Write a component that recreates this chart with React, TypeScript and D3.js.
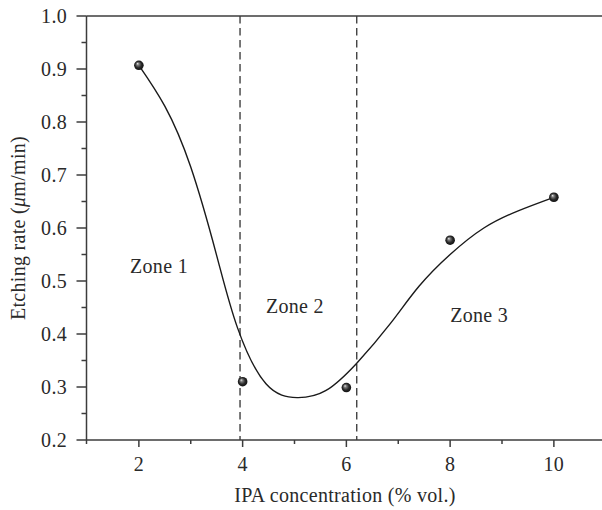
import React from "react";
import * as d3 from "d3";

// Measured etching rates
const ipaConc = [2, 4, 6, 8, 10];
const etchRate = [0.907, 0.31, 0.299, 0.577, 0.658];

// Smoothed trend curve through the measurements
const fitX = [2.0, 2.5, 3.0, 3.5, 3.9, 4.45, 5.05, 5.6, 6.2, 6.85, 7.4, 8.0, 8.65, 9.3, 10.0];
const fitY = [0.907, 0.83, 0.715, 0.548, 0.412, 0.306, 0.28, 0.293, 0.345, 0.42, 0.49, 0.55, 0.6, 0.632, 0.658];

// Zone boundaries (% vol.)
const zoneBounds = [3.95, 6.2];
const zoneLabels = ["Zone 1", "Zone 2", "Zone 3"];
const zoneLabelX = [1.83, 4.45, 8.0];
const zoneLabelY = [0.515, 0.44, 0.423];

const xMajor = [2, 4, 6, 8, 10];
const xMinor = [1, 3, 5, 7, 9, 11];
const yMajor = [0.2, 0.3, 0.4, 0.5, 0.6, 0.7, 0.8, 0.9, 1.0];
const yMinor = [0.25, 0.35, 0.45, 0.55, 0.65, 0.75, 0.85, 0.95];

const W = 602;
const H = 510;
const FONT = "'Liberation Serif', 'Times New Roman', serif";
const AXIS = "#3c3c3c";
const TEXT = "#2a2a2a";
const FS = 20;

export default function App() {
  const x = d3.scaleLinear().domain([1, 11]).range([87, 605.75]);
  const y = d3.scaleLinear().domain([0.2, 1.0]).range([440, 16]);

  const fitPts: [number, number][] = fitX.map((v, i) => [v, fitY[i]]);
  const line = d3
    .line<[number, number]>()
    .x((d) => x(d[0]))
    .y((d) => y(d[1]))
    .curve(d3.curveNatural);

  const x0 = x(1) - 0.5;
  const yBottom = y(0.2);
  const yTop = y(1.0);

  return (
    <svg
      width={W}
      height={H}
      style={{ position: "absolute", left: 0, top: 0, background: "#fff" }}
      fontFamily={FONT}
    >
      <defs>
        <radialGradient id="ball" cx="50%" cy="50%" r="55%" fx="35%" fy="32%">
          <stop offset="0%" stopColor="#e8e8e8" />
          <stop offset="25%" stopColor="#7a7a7a" />
          <stop offset="60%" stopColor="#2a2a2a" />
          <stop offset="100%" stopColor="#0a0a0a" />
        </radialGradient>
      </defs>

      {/* zone boundaries */}
      {zoneBounds.map((b, i) => (
        <line
          key={"zb" + i}
          x1={x(b)}
          x2={x(b)}
          y1={yTop}
          y2={yBottom}
          stroke="#333"
          strokeWidth={1.3}
          strokeDasharray="7.5 4.5"
        />
      ))}

      {/* fitted curve */}
      <path d={line(fitPts) || ""} fill="none" stroke="#1a1a1a" strokeWidth={1.4} />

      {/* axes frame */}
      <line x1={x0} x2={W} y1={yBottom} y2={yBottom} stroke={AXIS} strokeWidth={1.5} />
      <line x1={x0} x2={W} y1={yTop} y2={yTop} stroke={AXIS} strokeWidth={1.5} />
      <line x1={x0} x2={x0} y1={yTop} y2={yBottom} stroke={AXIS} strokeWidth={1.5} />

      {/* x ticks */}
      {xMajor.map((v) => (
        <g key={"xm" + v}>
          <line x1={x(v)} x2={x(v)} y1={yBottom} y2={yBottom + 7} stroke={AXIS} strokeWidth={1.5} />
          <text x={x(v)} y={471} textAnchor="middle" fontSize={FS} fill={TEXT} letterSpacing={0.3}>
            {v}
          </text>
        </g>
      ))}
      {xMinor.map((v) => (
        <line key={"xn" + v} x1={v === 1 ? x0 : x(v)} x2={v === 1 ? x0 : x(v)} y1={yBottom} y2={yBottom + 4} stroke={AXIS} strokeWidth={1.5} />
      ))}

      {/* y ticks */}
      {yMajor.map((v) => (
        <g key={"ym" + v}>
          <line x1={x0 - 10} x2={x0} y1={y(v)} y2={y(v)} stroke={AXIS} strokeWidth={1.5} />
          <text x={67} y={y(v)} dy="0.34em" textAnchor="end" fontSize={FS} fill={TEXT} letterSpacing={0.3}>
            {v.toFixed(1)}
          </text>
        </g>
      ))}
      {yMinor.map((v) => (
        <line key={"yn" + v} x1={x0 - 5} x2={x0} y1={y(v)} y2={y(v)} stroke={AXIS} strokeWidth={1.5} />
      ))}

      {/* axis titles */}
      <text x={345} y={502} textAnchor="middle" fontSize={FS} fill={TEXT} letterSpacing={0.3}>
        IPA concentration (% vol.)
      </text>
      <text
        transform={`translate(25, ${228}) rotate(-90)`}
        textAnchor="middle"
        fontSize={FS}
        fill={TEXT}
        letterSpacing={0.3}
      >
        Etching rate (<tspan fontStyle="italic">μ</tspan>m/min)
      </text>

      {/* zone labels */}
      {zoneLabels.map((t, i) => (
        <text key={t} x={x(zoneLabelX[i])} y={y(zoneLabelY[i])} fontSize={FS} fill={TEXT} letterSpacing={0.3}>
          {t}
        </text>
      ))}

      {/* measured points */}
      {ipaConc.map((v, i) => (
        <circle key={"p" + v} cx={x(v)} cy={y(etchRate[i])} r={4.8} fill="url(#ball)" />
      ))}
    </svg>
  );
}
